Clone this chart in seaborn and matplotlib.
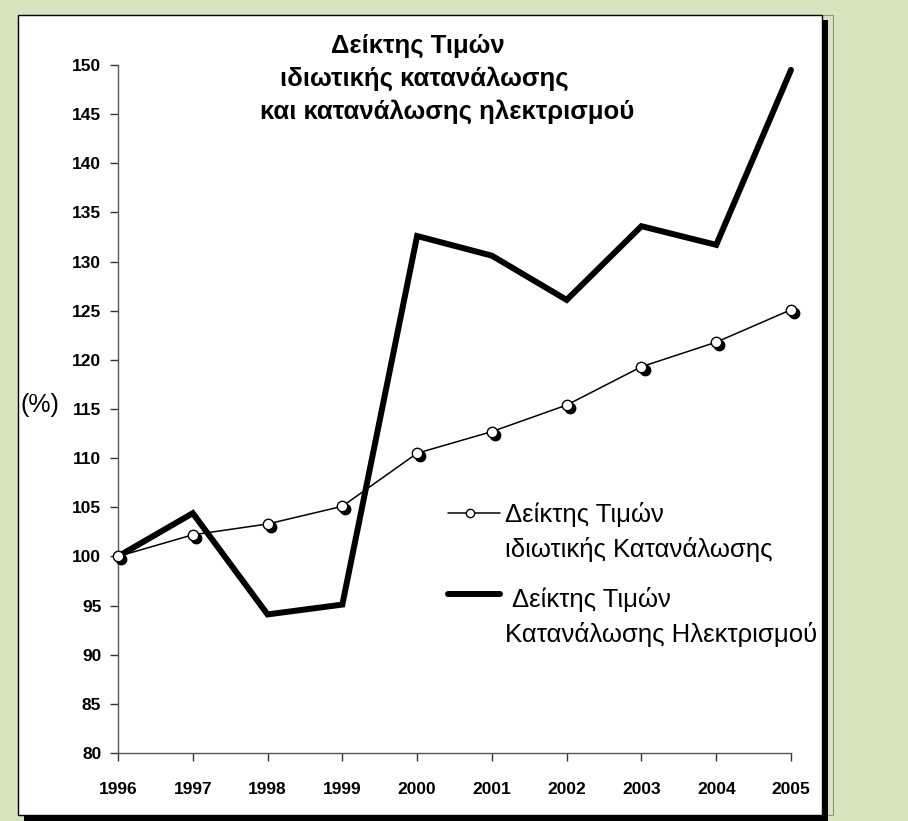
import matplotlib
matplotlib.use("Agg")
import matplotlib.pyplot as plt
import matplotlib.transforms as mtransforms
from matplotlib.patches import Rectangle
import seaborn as sns
import pandas as pd

years = [1996, 1997, 1998, 1999, 2000, 2001, 2002, 2003, 2004, 2005]
consumer_idx = [100.0, 102.2, 103.3, 105.1, 110.5, 112.7, 115.4, 119.3, 121.8, 125.1]
electric_idx = [100.0, 104.4, 94.1, 95.1, 132.6, 130.6, 126.1, 133.6, 131.7, 149.5]
yticks = [80, 85, 90, 95, 100, 105, 110, 115, 120, 125, 130, 135, 140, 145, 150]

title_lines = ["Δείκτης Τιμών", "ιδιωτικής κατανάλωσης", "και κατανάλωσης ηλεκτρισμού"]
leg1 = ["Δείκτης Τιμών", "ιδιωτικής Κατανάλωσης"]
leg2 = ["Δείκτης Τιμών", "Κατανάλωσης Ηλεκτρισμού"]

sns.set_theme(style="white")
plt.rcParams['font.family'] = ['Liberation Sans', 'DejaVu Sans']
plt.rcParams['text.color'] = 'black'
plt.rcParams['xtick.color'] = 'black'
plt.rcParams['ytick.color'] = 'black'

W, H = 908, 821
fig = plt.figure(figsize=(W / 100, H / 100), dpi=100)
fig.patch.set_facecolor('#d7e4bd')

def px(x0, y0, x1, y1):
    return (x0 / W, 1 - y1 / H, (x1 - x0) / W, (y1 - y0) / H)

for (x0, y0, x1, y1, fc, ec, lw, z) in [
    (18, 15, 833, 815, 'none', '#8a9a7a', 0.8, -12),
    (24, 20, 828, 821, 'black', 'none', 0, -11),
    (18, 15, 822, 815, 'white', 'black', 1.0, -10),
]:
    x, y, w, h = px(x0, y0, x1, y1)
    fig.patches.append(Rectangle((x, y), w, h, transform=fig.transFigure,
                                 facecolor=fc, edgecolor=ec, linewidth=lw, zorder=z))

ax = fig.add_axes([118 / W, 1 - 753 / H, (791 - 118) / W, (753 - 65) / H])
ax.set_facecolor('none')
ax.set_zorder(1)

df = pd.DataFrame({"Year": years, "cons": consumer_idx, "elec": electric_idx})

sns.lineplot(data=df, x="Year", y="elec", ax=ax, color='black', linewidth=4.3,
             solid_joinstyle='miter', zorder=3, clip_on=False)
sns.lineplot(data=df, x="Year", y="cons", ax=ax, color='black', linewidth=1.1, zorder=4,
             clip_on=False)
shadow = mtransforms.offset_copy(ax.transData, fig=fig, x=2.2, y=-2.2, units='points')
ax.plot(years, consumer_idx, linestyle='none', marker='o', markersize=7.5,
        markerfacecolor='black', markeredgecolor='black', transform=shadow, zorder=5,
        clip_on=False)
ax.plot(years, consumer_idx, linestyle='none', marker='o', markersize=7.5,
        markerfacecolor='white', markeredgecolor='black', markeredgewidth=1.0, zorder=6,
        clip_on=False)

ax.set_xlim(1996, 2005)
ax.set_ylim(80, 150)
ax.set_xticks(years)
ax.set_xticklabels([str(y) for y in years], fontsize=12.5, fontweight='bold')
ax.set_yticks(yticks)
ax.set_yticklabels([str(v) for v in yticks], fontsize=12.5, fontweight='bold')
ax.set_xlabel('')
ax.set_ylabel('')
for s in ['top', 'right']:
    ax.spines[s].set_visible(False)
for s in ['left', 'bottom']:
    ax.spines[s].set_color('#555555')
    ax.spines[s].set_linewidth(1.0)
ax.tick_params(axis='x', direction='out', length=6, width=1, color='#333333', pad=15)
ax.tick_params(axis='y', direction='out', length=6, width=1, color='#333333', pad=6)
ax.tick_params(bottom=True, left=True)

def ftext(xp, yp, s, **kw):
    fig.text(xp / W, 1 - yp / H, s, **kw)

ftext(331, 46, title_lines[0], ha='left', va='center', fontsize=18.5, fontweight='bold')
ftext(280, 79, title_lines[1], ha='left', va='center', fontsize=18.5, fontweight='bold')
ftext(260, 112, title_lines[2], ha='left', va='center', fontsize=18.5, fontweight='bold')

ftext(20, 405, "(%)", ha='left', va='center', fontsize=18)

fig.lines.append(plt.Line2D([448 / W, 500 / W], [1 - 513 / H] * 2, transform=fig.transFigure,
                            color='black', linewidth=1.1))
fig.lines.append(plt.Line2D([470 / W], [1 - 513 / H], transform=fig.transFigure, marker='o',
                            markersize=6, markerfacecolor='white', markeredgecolor='black'))
ftext(505, 514, leg1[0], ha='left', va='center', fontsize=18.5)
ftext(505, 549, leg1[1], ha='left', va='center', fontsize=18.5)
fig.lines.append(plt.Line2D([448 / W, 500 / W], [1 - 594 / H] * 2, transform=fig.transFigure,
                            color='black', linewidth=4.3))
ftext(512, 599, leg2[0], ha='left', va='center', fontsize=18.5)
ftext(505, 634, leg2[1], ha='left', va='center', fontsize=18.5)

fig.savefig("out.png", dpi=100, facecolor=fig.get_facecolor())
